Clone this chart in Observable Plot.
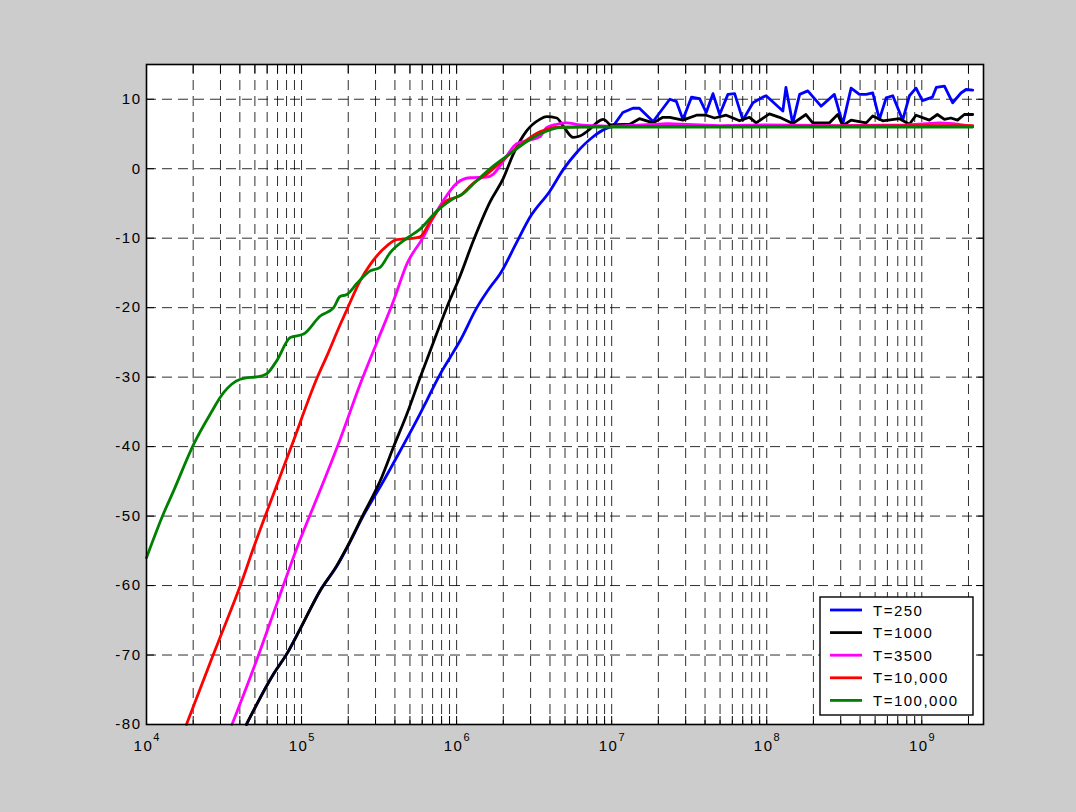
<!DOCTYPE html>
<html>
<head>
<meta charset="utf-8">
<script src="https://cdn.jsdelivr.net/npm/d3@7"></script>
<script src="https://cdn.jsdelivr.net/npm/@observablehq/plot@0.6"></script>
<style>
  html, body { margin: 0; padding: 0; background: #cccccc; }
  #chart { width: 1076px; height: 812px; }
</style>
</head>
<body>
<div id="chart"></div>
<script>
// Magnitude response (dB) against frequency (Hz) for several values of T.
const seriesNames = ["T=250", "T=1000", "T=3500", "T=10,000", "T=100,000"];
const seriesColors = ["#0000ff", "#000000", "#ff00ff", "#ff0000", "#008000"];

// [frequency in Hz, level in dB]
const t250 = [
  [4.41e4, -80], [6.61e4, -72.7], [8.05e4, -69.8], [9.82e4, -66.2], [1.32e5, -60.7],
  [1.69e5, -57.2], [1.96e5, -54.6], [2.51e5, -49.9], [3.29e5, -45.4], [4.33e5, -40.6],
  [5.81e5, -35.3], [6.41e5, -33.4], [7.82e5, -29.6], [9.06e5, -27.2], [1.05e6, -24.8],
  [1.35e6, -20.0], [1.64e6, -17.1], [1.90e6, -15.2], [2.44e6, -10.6], [2.97e6, -7.0],
  [4.00e6, -3.2], [4.88e6, -0.1], [5.93e6, 2.3], [7.59e6, 4.6], [9.25e6, 5.8],
  [1.02e7, 6.1], [1.18e7, 8.1], [1.37e7, 8.7], [1.51e7, 8.7], [1.85e7, 6.8],
  [2.37e7, 10.0], [2.61e7, 9.7], [2.88e7, 7.1], [3.27e7, 10.3], [3.69e7, 10.1],
  [4.07e7, 8.1], [4.50e7, 10.8], [4.97e7, 7.8], [5.62e7, 10.7], [6.21e7, 10.8],
  [7.02e7, 7.0], [8.15e7, 9.5], [9.44e7, 10.3], [9.91e7, 10.5], [1.27e8, 8.3],
  [1.33e8, 11.7], [1.47e8, 6.5], [1.63e8, 10.7], [1.84e8, 11.2], [2.24e8, 9.0],
  [2.73e8, 10.7], [3.09e8, 6.4], [3.50e8, 11.6], [3.96e8, 10.7], [4.38e8, 10.7],
  [4.83e8, 10.9], [5.33e8, 7.1], [5.89e8, 10.2], [6.50e8, 10.5], [7.53e8, 7.0],
  [8.32e8, 10.5], [9.18e8, 11.6], [1.01e9, 9.8], [1.17e9, 10.3], [1.24e9, 11.7],
  [1.40e9, 11.9], [1.58e9, 9.5], [1.79e9, 10.9], [1.93e9, 11.4], [2.13e9, 11.3]
];
const t1000 = [
  [4.41e4, -80], [6.61e4, -72.7], [8.05e4, -69.8], [9.82e4, -66.2], [1.32e5, -60.7],
  [1.69e5, -57.1], [1.96e5, -54.5], [2.51e5, -49.7], [3.29e5, -44.4], [3.91e5, -40.1],
  [4.78e5, -35.3], [5.81e5, -30.1], [7.08e5, -25.0], [8.63e5, -20.0], [1.05e6, -15.5],
  [1.28e6, -10.4], [1.64e6, -4.8], [2.00e6, -1.4], [2.32e6, 2.1], [2.82e6, 5.4],
  [3.44e6, 7.1], [3.80e6, 7.5], [4.42e6, 7.3], [4.88e6, 6.1], [5.65e6, 4.5],
  [6.24e6, 4.7], [7.23e6, 5.7], [7.98e6, 6.6], [8.81e6, 7.1], [9.72e6, 6.3],
  [1.31e7, 6.4], [1.51e7, 7.2], [1.85e7, 6.6], [2.14e7, 7.4], [2.37e7, 7.4],
  [2.88e7, 7.0], [3.52e7, 7.7], [4.07e7, 7.7], [4.61e7, 7.3], [5.48e7, 7.7],
  [6.68e7, 6.9], [7.74e7, 7.4], [8.55e7, 6.6], [1.04e8, 7.9], [1.21e8, 7.4],
  [1.47e8, 6.5], [1.79e8, 7.8], [1.98e8, 6.6], [2.54e8, 6.6], [2.87e8, 7.8],
  [3.09e8, 6.2], [3.50e8, 7.0], [4.38e8, 6.6], [4.83e8, 7.6], [5.60e8, 6.9],
  [7.18e8, 7.2], [8.32e8, 6.4], [9.18e8, 7.7], [1.12e9, 7.0], [1.26e9, 7.8],
  [1.40e9, 7.1], [1.54e9, 7.3], [1.70e9, 7.0], [1.88e9, 7.8], [2.13e9, 7.8]
];
const t3500 = [
  [3.56e4, -80], [5.16e4, -70.6], [6.93e4, -62.6], [9.33e4, -54.6], [1.39e5, -45.0],
  [1.77e5, -39.0], [2.39e5, -31.0], [3.06e5, -25.0], [3.92e5, -19.0], [4.78e5, -13.7],
  [6.11e5, -9.8], [7.08e5, -7.0], [8.20e5, -4.6], [1.00e6, -2.1], [1.22e6, -1.3],
  [1.56e6, -1.2], [1.72e6, -0.8], [2.00e6, 1.1], [2.44e6, 3.6], [2.82e6, 4.0],
  [3.44e6, 4.6], [3.80e6, 5.9], [4.42e6, 6.4], [5.12e6, 6.6], [6.24e6, 6.3],
  [1.00e7, 6.1], [2.30e7, 6.5], [5.00e7, 6.2], [1.00e8, 6.3], [3.00e8, 6.2],
  [8.00e8, 6.3], [1.30e9, 6.6], [1.60e9, 6.5], [2.13e9, 6.1]
];
const t10000 = [
  [1.81e4, -80], [2.69e4, -70.0], [2.99e4, -67.4], [4.03e4, -60.0], [5.04e4, -53.8],
  [5.83e4, -50.0], [8.59e4, -40.0], [1.26e5, -30.1], [1.46e5, -26.9], [1.77e5, -22.5],
  [1.96e5, -20.3], [2.39e5, -16.1], [2.77e5, -13.8], [3.55e5, -11.1], [4.11e5, -10.2],
  [4.78e5, -10.1], [5.81e5, -9.8], [6.75e5, -7.6], [8.63e5, -4.6], [1.05e6, -3.9],
  [1.28e6, -2.1], [1.56e6, -0.8], [2.00e6, 1.3], [2.51e6, 3.2], [3.44e6, 5.3],
  [4.47e6, 6.0], [1.00e7, 6.1], [1.00e8, 6.1], [1.00e9, 6.2], [2.13e9, 6.2]
];
const t100000 = [
  [1.00e4, -56.0], [1.29e4, -49.6], [1.50e4, -46.3], [2.02e4, -39.6], [2.58e4, -35.3],
  [3.15e4, -32.2], [4.03e4, -30.3], [5.56e4, -29.8], [5.98e4, -29.5], [6.93e4, -27.6],
  [8.45e4, -24.3], [1.03e5, -23.8], [1.32e5, -21.2], [1.61e5, -20.0], [1.77e5, -18.4],
  [1.96e5, -18.1], [2.28e5, -16.5], [2.77e5, -14.7], [3.21e5, -14.2], [3.72e5, -12.1],
  [4.78e5, -10.0], [5.81e5, -8.7], [7.45e5, -6.1], [9.53e5, -4.3], [1.10e6, -3.6],
  [1.28e6, -2.2], [1.64e6, 0.0], [2.32e6, 2.5], [2.97e6, 4.2], [3.80e6, 5.4],
  [4.63e6, 5.9], [6.31e6, 6.0], [1.00e7, 6.0], [1.00e8, 6.0], [1.00e9, 6.0], [2.13e9, 6.0]
];

// Axis ticks: decades with their minor (2..9) ticks on the log axis
const xDecades = [4, 5, 6, 7, 8, 9];
const xMultipliers = [1, 2, 3, 4, 5, 6, 7, 8, 9];
const yTicks = [-80, -70, -60, -50, -40, -30, -20, -10, 0, 10];
const xDomain = [1e4, 2.5e9];
const yDomain = [-80, 15];

const xTicks = xDecades.flatMap(e => xMultipliers.map(m => m * 10 ** e)).filter(v => v <= xDomain[1]);
const isDecade = v => Math.abs(Math.log10(v) - Math.round(Math.log10(v))) < 1e-9;

const allSeries = [t250, t1000, t3500, t10000, t100000];
const rows = allSeries.flatMap((s, i) => s.map(([f, db]) => ({ name: seriesNames[i], f, db })));

const font = "'Liberation Sans', Arial, Helvetica, sans-serif";
const gridStyle = { stroke: "#000", strokeOpacity: 0.82, strokeWidth: 1, strokeDasharray: "10,6" };
const lineStyle = { x: "f", y: "db", z: "name", stroke: "name", strokeWidth: 2.8, strokeLinejoin: "round" };

const svg = Plot.plot({
  width: 1076,
  height: 812,
  marginLeft: 146,
  marginRight: 93,
  marginTop: 64,
  marginBottom: 88,
  style: { background: "#cccccc", fontFamily: font, fontSize: "15px", color: "#000", overflow: "visible", letterSpacing: "1.5px" },
  x: { type: "log", domain: xDomain, label: null },
  y: { domain: yDomain, label: null },
  color: { domain: seriesNames, range: seriesColors },
  marks: [
    Plot.frame({ fill: "white", stroke: null }),
    Plot.gridX(xTicks, gridStyle),
    Plot.gridY(yTicks, gridStyle),
    // smooth roll-off below 10 MHz, point-to-point ripple above it
    Plot.line(rows, { ...lineStyle, filter: d => d.f <= 1.02e7, curve: "monotone-x" }),
    Plot.line(rows, { ...lineStyle, filter: d => d.f >= 9.7e6, curve: "linear" }),
    Plot.axisX({ ticks: xTicks, anchor: "bottom", tickSize: -8, tickPadding: 24, label: null, fontSize: 15,
      tickFormat: v => isDecade(v) ? String(Math.round(Math.log10(v))) : "" }),
    Plot.axisX({ ticks: xTicks, anchor: "top", tickSize: -8, label: null, tickFormat: () => "" }),
    Plot.axisY({ ticks: yTicks, anchor: "left", tickSize: -8, tickPadding: 13, label: null, fontSize: 15, tickFormat: d => String(d) }),
    Plot.axisY({ ticks: yTicks, anchor: "right", tickSize: -8, label: null, tickFormat: () => "" }),
    Plot.frame({ stroke: "#000", strokeWidth: 1.6 })
  ]
});

// Decade labels written as 10 with a raised exponent
d3.select(svg).selectAll('g[aria-label="x-axis tick label"] text').each(function () {
  const exp = this.textContent;
  if (!exp) return;
  const t = d3.select(this);
  t.text(null);
  t.append("tspan").text("10");
  t.append("tspan").attr("dy", -10).style("font-size", "11px").style("letter-spacing", "0px").text(exp);
});

// Legend box in the lower right corner of the axes
const legend = d3.select(svg).append("g")
  .style("font-family", font).style("font-size", "15px").style("letter-spacing", "1.5px")
  .attr("text-anchor", "start");
const lx = 820, ly = 597, lw = 153, rowH = 22.6;
legend.append("rect").attr("x", lx).attr("y", ly).attr("width", lw).attr("height", rowH * seriesNames.length + 5)
  .attr("fill", "white").attr("stroke", "#000").attr("stroke-width", 1.4);
seriesNames.forEach((name, i) => {
  const cy = ly + 13 + i * rowH;
  legend.append("line").attr("x1", lx + 10).attr("x2", lx + 42).attr("y1", cy).attr("y2", cy)
    .attr("stroke", seriesColors[i]).attr("stroke-width", 2.8);
  legend.append("text").attr("x", lx + 53).attr("y", cy + 5.5).attr("fill", "#000").text(name);
});

document.getElementById("chart").appendChild(svg);
</script>
</body>
</html>
